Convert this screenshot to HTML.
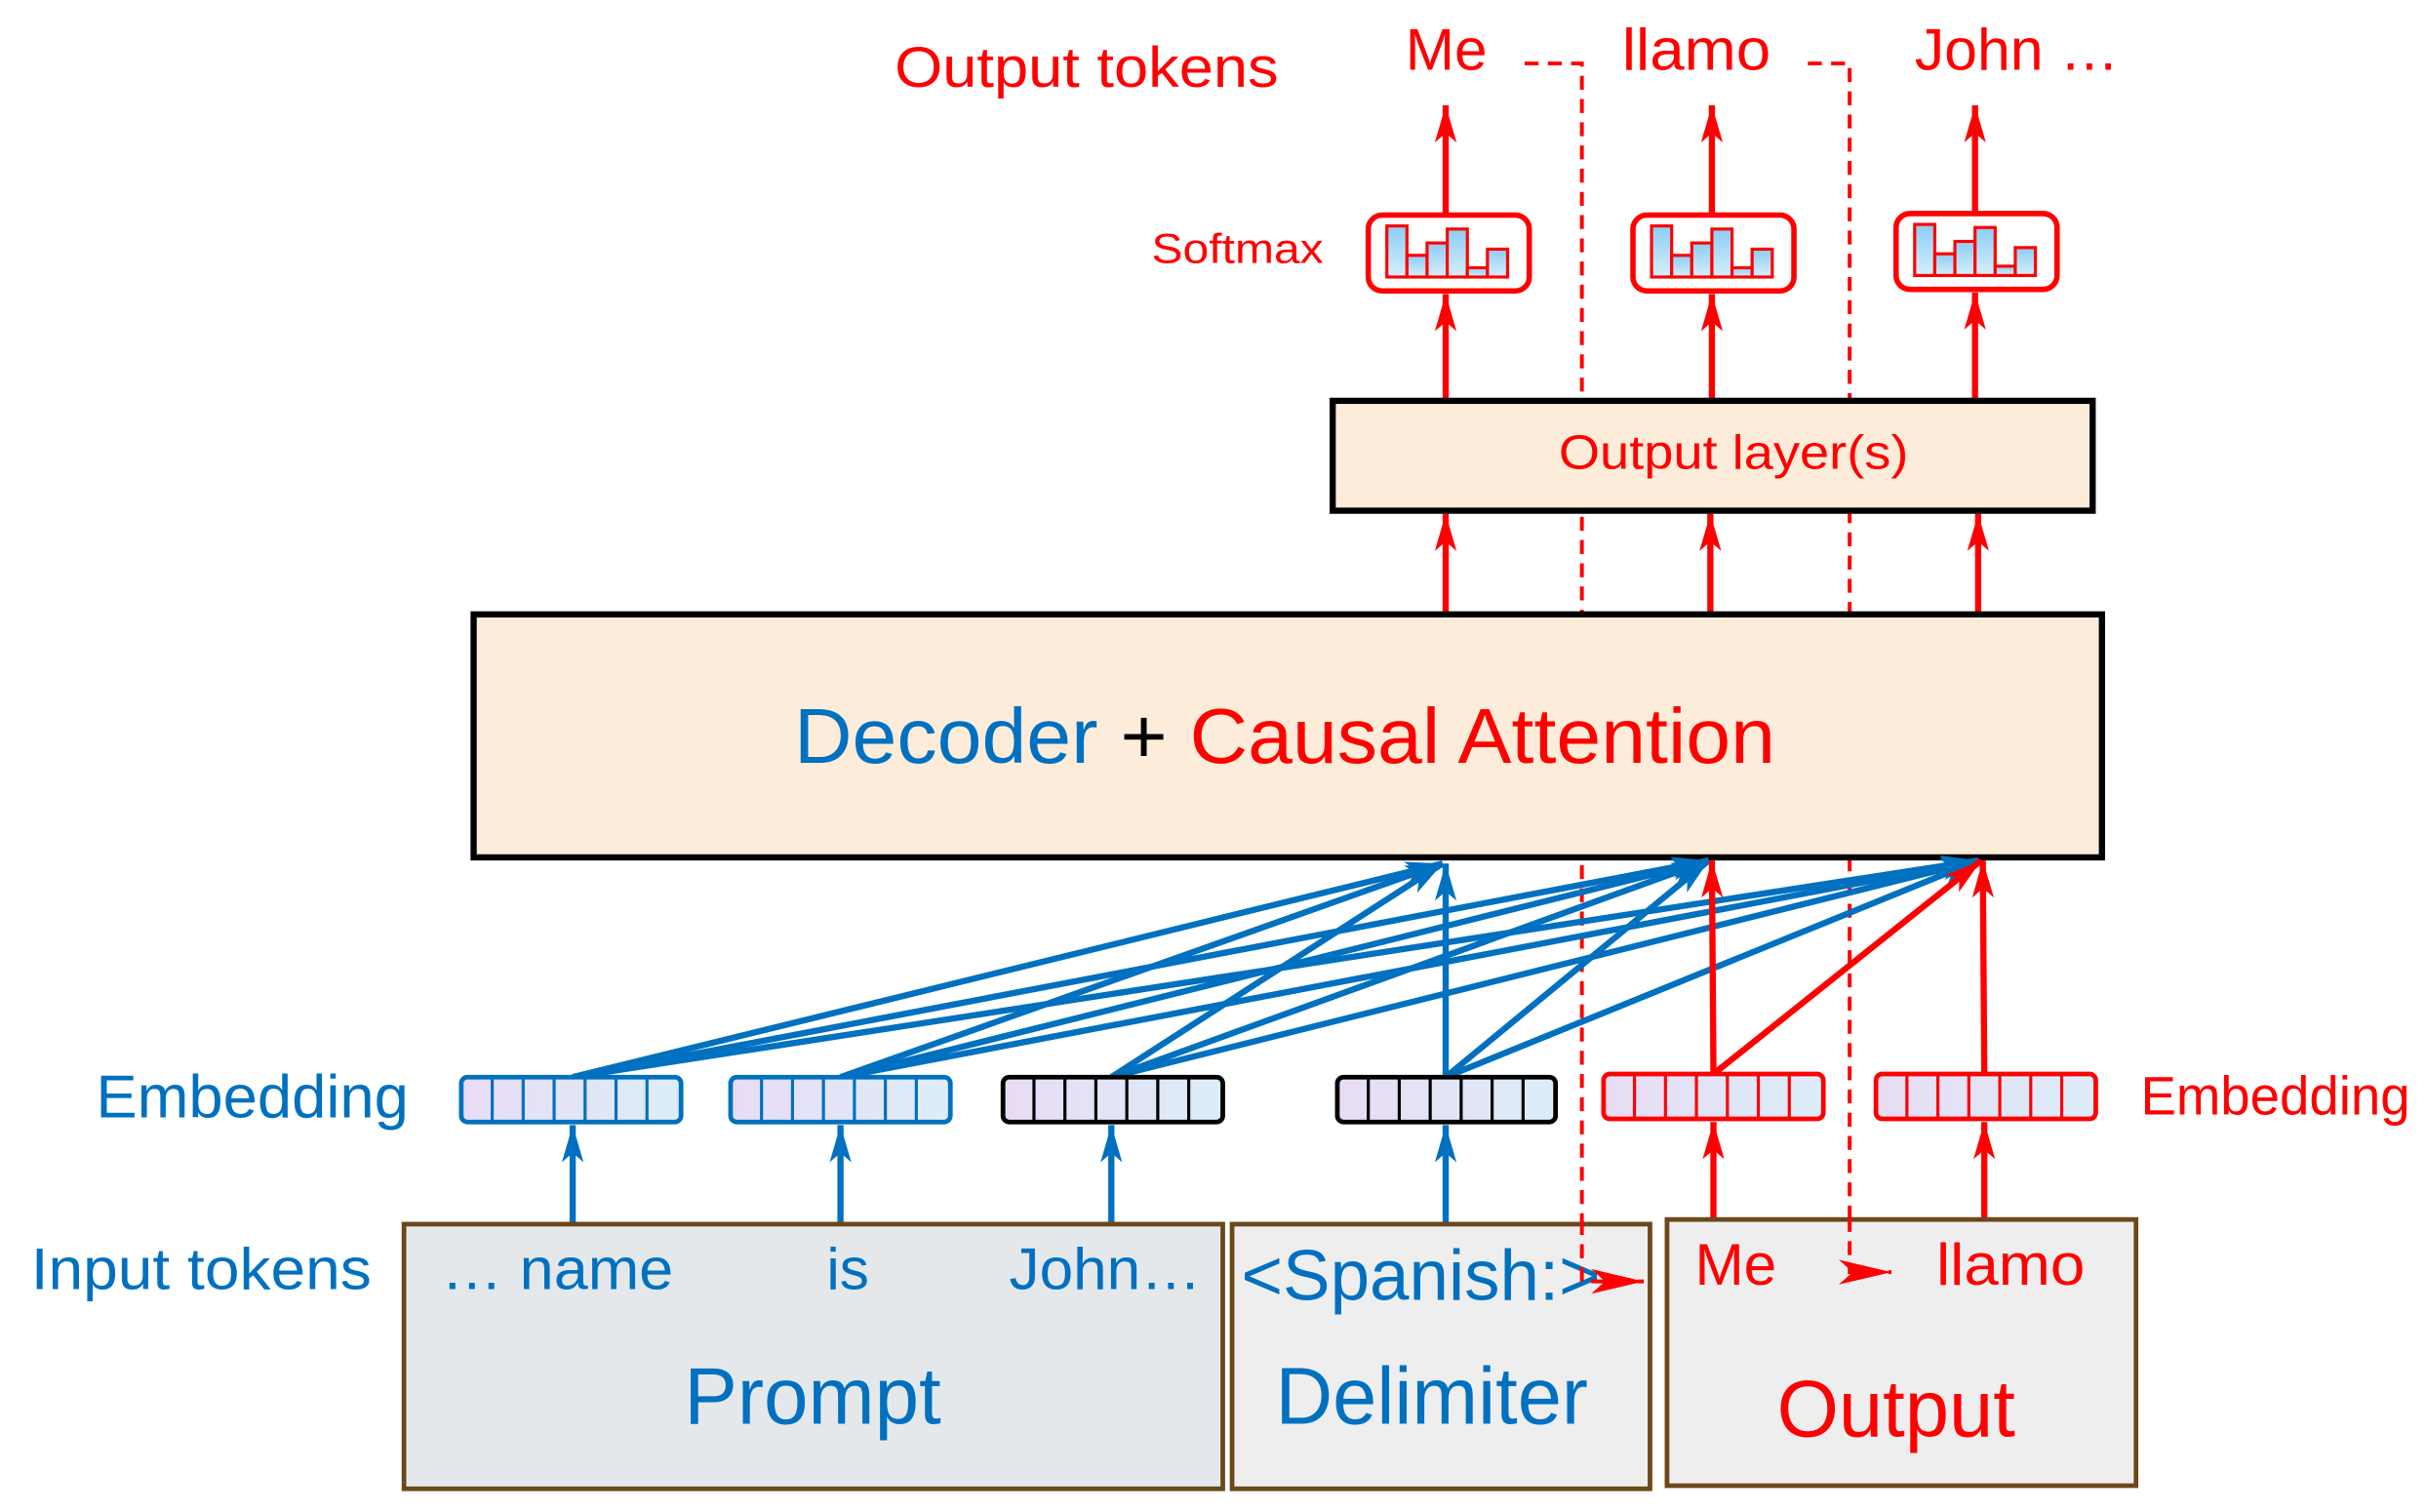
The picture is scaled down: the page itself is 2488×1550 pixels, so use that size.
<!DOCTYPE html>
<html><head><meta charset="utf-8"><style>
html,body{margin:0;padding:0;background:#fff;}
svg{display:block;}
text{font-family:"Liberation Sans",sans-serif;}
</style></head><body>
<svg width="2488" height="1550" viewBox="0 0 1568 977" preserveAspectRatio="none" xmlns="http://www.w3.org/2000/svg">
<defs>
<marker id="ab" markerUnits="userSpaceOnUse" markerWidth="26" markerHeight="16" refX="24" refY="8" orient="auto"><path d="M0,1 L24,8 L0,15 L6,8 z" fill="#0070c0"/></marker>
<marker id="ar" markerUnits="userSpaceOnUse" markerWidth="26" markerHeight="16" refX="24" refY="8" orient="auto"><path d="M0,1 L24,8 L0,15 L6,8 z" fill="#ff0000"/></marker>
<marker id="ar2" markerUnits="userSpaceOnUse" markerWidth="36" markerHeight="18" refX="34" refY="9" orient="auto"><path d="M0,1 L34,9 L0,17 L9,9 z" fill="#ff0000"/></marker>
<linearGradient id="eg" x1="0" x2="1" y1="0" y2="0"><stop offset="0" stop-color="#e8dcf5"/><stop offset="1" stop-color="#dcedf8"/></linearGradient>
<linearGradient id="bg" x1="0" x2="0" y1="0" y2="1"><stop offset="0" stop-color="#8ccdf5"/><stop offset="1" stop-color="#d6eefc"/></linearGradient>
<g id="bars">
<rect x="12" y="7" width="13" height="33" fill="url(#bg)" stroke="#f00" stroke-width="2"/>
<rect x="25" y="26" width="13" height="14" fill="url(#bg)" stroke="#f00" stroke-width="2"/>
<rect x="38" y="18" width="13" height="22" fill="url(#bg)" stroke="#f00" stroke-width="2"/>
<rect x="51" y="9" width="13" height="31" fill="url(#bg)" stroke="#f00" stroke-width="2"/>
<rect x="64" y="34" width="13" height="6" fill="url(#bg)" stroke="#f00" stroke-width="2"/>
<rect x="77" y="22" width="13" height="18" fill="url(#bg)" stroke="#f00" stroke-width="2"/>
</g>
</defs>

<!-- dashed feedback lines (under boxes) -->
<g stroke="#f00" stroke-width="2.5" fill="none" stroke-dasharray="9,6">
<path d="M985,41 H1022 V828"/>
<path d="M1168,41 H1195 V822"/>
</g>

<!-- top labels -->
<text x="578" y="56" font-size="37" fill="#f00" textLength="248" lengthAdjust="spacingAndGlyphs">Output tokens</text>
<text x="908" y="45" font-size="38" fill="#f00">Me</text>
<text x="1048" y="45" font-size="38" fill="#f00" textLength="96" lengthAdjust="spacingAndGlyphs">llamo</text>
<text x="1237" y="45" font-size="38" fill="#f00" textLength="132" lengthAdjust="spacingAndGlyphs">John …</text>
<text x="744" y="170" font-size="27" fill="#f00" textLength="111" lengthAdjust="spacingAndGlyphs">Softmax</text>

<!-- softmax boxes -->
<g fill="#fff" stroke="#f00" stroke-width="3.5">
<rect x="884" y="139" width="104" height="49" rx="9"/>
<rect x="1055" y="139" width="104" height="49" rx="9"/>
<rect x="1225" y="138" width="104" height="49" rx="9"/>
</g>
<use href="#bars" x="884" y="139"/>
<use href="#bars" x="1055" y="139"/>
<use href="#bars" x="1225" y="138"/>

<!-- red vertical arrows top -->
<g stroke="#f00" stroke-width="4" fill="none">
<line x1="934" y1="139" x2="934" y2="68" marker-end="url(#ar)"/>
<line x1="1106" y1="139" x2="1106" y2="68" marker-end="url(#ar)"/>
<line x1="1276" y1="138" x2="1276" y2="68" marker-end="url(#ar)"/>
<line x1="934" y1="258" x2="934" y2="190" marker-end="url(#ar)"/>
<line x1="1106" y1="258" x2="1106" y2="190" marker-end="url(#ar)"/>
<line x1="1276" y1="258" x2="1276" y2="189" marker-end="url(#ar)"/>
<line x1="934" y1="396" x2="934" y2="332" marker-end="url(#ar)"/>
<line x1="1105" y1="396" x2="1105" y2="332" marker-end="url(#ar)"/>
<line x1="1278" y1="396" x2="1278" y2="332" marker-end="url(#ar)"/>
</g>

<!-- output layer -->
<rect x="861" y="259" width="491" height="71" fill="#fdecd9" stroke="#000" stroke-width="4"/>
<text x="1120" y="303" font-size="31" fill="#f00" text-anchor="middle" textLength="226" lengthAdjust="spacingAndGlyphs">Output layer(s)</text>

<!-- decoder -->
<rect x="306" y="397" width="1052" height="157" fill="#fdecd9" stroke="#000" stroke-width="4"/>
<text x="830" y="493" font-size="50" text-anchor="middle" textLength="634" lengthAdjust="spacingAndGlyphs"><tspan fill="#0070c0">Decoder</tspan><tspan fill="#000"> + </tspan><tspan fill="#f00">Causal Attention</tspan></text>

<!-- attention connections -->
<g stroke="#0070c0" stroke-width="4" fill="none">
<line x1="370" y1="696" x2="932" y2="558" marker-end="url(#ab)"/>
<line x1="370" y1="696" x2="1104" y2="556" marker-end="url(#ab)"/>
<line x1="370" y1="696" x2="1278" y2="556" marker-end="url(#ab)"/>
<line x1="543" y1="696" x2="932" y2="558" marker-end="url(#ab)"/>
<line x1="543" y1="696" x2="1104" y2="556" marker-end="url(#ab)"/>
<line x1="543" y1="696" x2="1278" y2="556" marker-end="url(#ab)"/>
<line x1="718" y1="696" x2="932" y2="558" marker-end="url(#ab)"/>
<line x1="718" y1="696" x2="1104" y2="556" marker-end="url(#ab)"/>
<line x1="718" y1="696" x2="1278" y2="556" marker-end="url(#ab)"/>
<line x1="934" y1="696" x2="934" y2="558" marker-end="url(#ab)"/>
<line x1="934" y1="696" x2="1104" y2="556" marker-end="url(#ab)"/>
<line x1="934" y1="696" x2="1278" y2="556" marker-end="url(#ab)"/>
</g>
<g stroke="#f00" stroke-width="4" fill="none">
<line x1="1107" y1="694" x2="1106" y2="556" marker-end="url(#ar)"/>
<line x1="1107" y1="694" x2="1280" y2="556" marker-end="url(#ar)"/>
<line x1="1282" y1="694" x2="1281" y2="556" marker-end="url(#ar)"/>
</g>

<!-- embeddings -->
<g stroke-width="3">
<g stroke="#0070c0"><rect x="298" y="696" width="142" height="29" rx="4" fill="url(#eg)"/><path d="M318,697V724M338,697V724M358,697V724M378,697V724M398,697V724M418,697V724" stroke-width="2"/></g>
<g stroke="#0070c0"><rect x="472" y="696" width="142" height="29" rx="4" fill="url(#eg)"/><path d="M492,697V724M512,697V724M532,697V724M552,697V724M572,697V724M592,697V724" stroke-width="2"/></g>
<g stroke="#000"><rect x="648" y="696" width="142" height="29" rx="4" fill="url(#eg)"/><path d="M668,697V724M688,697V724M708,697V724M728,697V724M748,697V724M768,697V724" stroke-width="2"/></g>
<g stroke="#000"><rect x="864" y="696" width="141" height="29" rx="4" fill="url(#eg)"/><path d="M884,697V724M904,697V724M924,697V724M944,697V724M964,697V724M984,697V724" stroke-width="2"/></g>
<g stroke="#f00"><rect x="1036" y="694" width="142" height="29" rx="4" fill="url(#eg)"/><path d="M1056,695V722M1076,695V722M1096,695V722M1116,695V722M1136,695V722M1156,695V722" stroke-width="2"/></g>
<g stroke="#f00"><rect x="1212" y="694" width="142" height="29" rx="4" fill="url(#eg)"/><path d="M1232,695V722M1252,695V722M1272,695V722M1292,695V722M1312,695V722M1332,695V722" stroke-width="2"/></g>
</g>
<text x="62" y="722" font-size="39" fill="#0070c0" textLength="202" lengthAdjust="spacingAndGlyphs">Embedding</text>
<text x="1383" y="720" font-size="35" fill="#f00" textLength="174" lengthAdjust="spacingAndGlyphs">Embedding</text>

<!-- input arrows -->
<g stroke-width="4" fill="none">
<line x1="370" y1="790" x2="370" y2="727" stroke="#0070c0" marker-end="url(#ab)"/>
<line x1="543" y1="790" x2="543" y2="727" stroke="#0070c0" marker-end="url(#ab)"/>
<line x1="718" y1="790" x2="718" y2="727" stroke="#0070c0" marker-end="url(#ab)"/>
<line x1="934" y1="790" x2="934" y2="727" stroke="#0070c0" marker-end="url(#ab)"/>
<line x1="1107" y1="788" x2="1107" y2="725" stroke="#f00" marker-end="url(#ar)"/>
<line x1="1282" y1="788" x2="1282" y2="725" stroke="#f00" marker-end="url(#ar)"/>
</g>

<!-- bottom boxes -->
<g stroke="#6b4719" stroke-width="3">
<rect x="261" y="791" width="529" height="171" fill="#e4e8eb"/>
<rect x="796" y="791" width="270" height="171" fill="#eeeeee"/>
<rect x="1077" y="788" width="303" height="172" fill="#eeeeee"/>
</g>
<text x="20" y="833" font-size="38" fill="#0070c0" textLength="220" lengthAdjust="spacingAndGlyphs">Input tokens</text>
<text x="285" y="833" font-size="38" fill="#0070c0" textLength="150" lengthAdjust="spacingAndGlyphs">… name</text>
<text x="534" y="833" font-size="38" fill="#0070c0">is</text>
<text x="652" y="833" font-size="38" fill="#0070c0" textLength="124" lengthAdjust="spacingAndGlyphs">John…</text>
<text x="802" y="840" font-size="46" fill="#0070c0" textLength="232" lengthAdjust="spacingAndGlyphs">&lt;Spanish:&gt;</text>
<text x="1095" y="830" font-size="38" fill="#f00">Me</text>
<text x="1251" y="830" font-size="38" fill="#f00" textLength="96" lengthAdjust="spacingAndGlyphs">llamo</text>
<text x="525" y="920" font-size="52" fill="#0070c0" text-anchor="middle" textLength="166" lengthAdjust="spacingAndGlyphs">Prompt</text>
<text x="925" y="920" font-size="52" fill="#0070c0" text-anchor="middle" textLength="202" lengthAdjust="spacingAndGlyphs">Delimiter</text>
<text x="1225" y="928" font-size="52" fill="#f00" text-anchor="middle" textLength="154" lengthAdjust="spacingAndGlyphs">Output</text>

<!-- dashed segments over bottom boxes -->
<g stroke="#f00" stroke-width="2.5" fill="none" stroke-dasharray="9,6">
<path d="M1022,789 V828 H1062" marker-end="url(#ar2)"/>
<path d="M1195,787 V822 H1222" marker-end="url(#ar2)"/>
</g>
</svg>
</body></html>
